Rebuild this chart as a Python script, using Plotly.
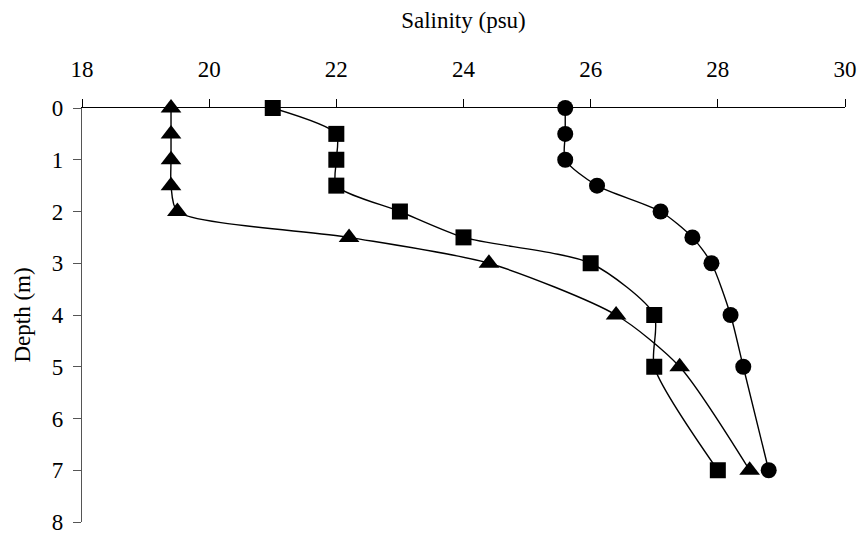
import plotly.graph_objects as go

# Sampling depths (m)
depth = [0, 0.5, 1, 1.5, 2, 2.5, 3, 4, 5, 7]

# Salinity profiles (psu) at each depth
sal_circle = [25.6, 25.6, 25.6, 26.1, 27.1, 27.6, 27.9, 28.2, 28.4, 28.8]
sal_square = [21.0, 22.0, 22.0, 22.0, 23.0, 24.0, 26.0, 27.0, 27.0, 28.0]
sal_triangle = [19.4, 19.4, 19.4, 19.4, 19.5, 22.2, 24.4, 26.4, 27.4, 28.5]

x_ticks = [18, 20, 22, 24, 26, 28, 30]
y_ticks = [0, 1, 2, 3, 4, 5, 6, 7, 8]

FONT = "Liberation Serif, Times New Roman, serif"
FS = 23

fig = go.Figure()

series = [
    (sal_circle, "circle", 16),
    (sal_square, "square", 16),
    (sal_triangle, "triangle-up", 18),
]
for vals, sym, size in series:
    fig.add_trace(go.Scatter(
        x=vals, y=depth, mode="lines+markers",
        line=dict(color="black", width=1.4, shape="spline", smoothing=0.7),
        marker=dict(symbol=sym, size=size, color="black"),
        showlegend=False, cliponaxis=False,
    ))

fig.update_layout(
    width=862, height=538,
    margin=dict(l=82, r=17, t=108, b=16, autoexpand=False),
    paper_bgcolor="white", plot_bgcolor="white",
    font=dict(family=FONT, size=FS, color="black"),
    xaxis=dict(
        side="top", range=[18, 30], tickvals=x_ticks,
        automargin=False,
        showgrid=False, zeroline=False,
        showline=True, linecolor="black", linewidth=1.2,
        ticks="outside", ticklen=8, tickcolor="black", tickwidth=1,
        ticklabelstandoff=13,
        title=dict(text="Salinity (psu)", standoff=21,
                   font=dict(family=FONT, size=FS)),
    ),
    yaxis=dict(
        range=[8, 0], tickvals=y_ticks,
        automargin=False,
        showgrid=False, zeroline=False,
        showline=True, linecolor="#555555", linewidth=1.2,
        ticks="outside", ticklen=8, tickcolor="#555555", tickwidth=1,
        ticklabelstandoff=5,
        title=dict(text="Depth (m)", standoff=14,
                   font=dict(family=FONT, size=FS)),
    ),
)

fig.write_html("out.html")
